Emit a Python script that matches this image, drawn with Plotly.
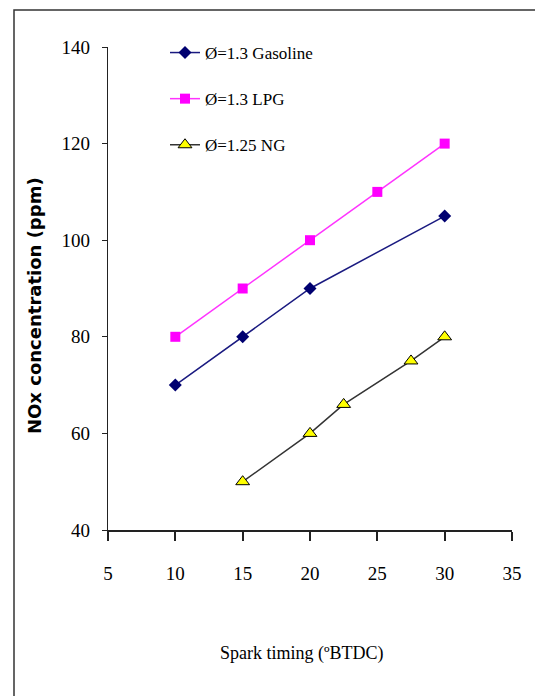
import plotly.graph_objects as go

gas_x = [10, 15, 20, 30]
gas_y = [70, 80, 90, 105]
lpg_x = [10, 15, 20, 25, 30]
lpg_y = [80, 90, 100, 110, 120]
ng_x = [15, 20, 22.5, 27.5, 30]
ng_y = [50, 60, 66, 75, 80]

x_ticks = [5, 10, 15, 20, 25, 30, 35]
y_ticks = [40, 60, 80, 100, 120, 140]

OFF = 8  # page body margin
W, H = 543 - OFF, 696 - OFF
# target plot area in window pixels: x 108..512, y 47..530
L, T = 108 - OFF, 47 - OFF
pw, ph = 404, 483
R = W - L - pw
B = H - T - ph

serif = "Liberation Serif"

fig = go.Figure()
fig.add_trace(go.Scatter(x=gas_x, y=gas_y, mode="lines+markers", name="Ø=1.3 Gasoline",
                         legendgroup="a",
                         line=dict(color="#1a1a80", width=1.5),
                         marker=dict(symbol="diamond", size=10, color="#000070")))
fig.add_trace(go.Scatter(x=lpg_x, y=lpg_y, mode="lines+markers", name="Ø=1.3 LPG",
                         legendgroup="b",
                         line=dict(color="#ff33ff", width=1.5),
                         marker=dict(symbol="square", size=10, color="#ff00ff")))
fig.add_trace(go.Scatter(x=ng_x, y=ng_y, mode="lines+markers", name="Ø=1.25 NG",
                         legendgroup="c",
                         line=dict(color="#333333", width=1.5),
                         marker=dict(symbol="triangle-up", size=12, color="#ffff00",
                                     line=dict(color="#000000", width=1))))

def px2x(p):
    # window pixel -> paper x
    return (p - OFF - L) / pw

def py2y(p):
    return (T + ph - (p - OFF)) / ph

fig.update_layout(
    width=W, height=H,
    margin=dict(l=L, r=R, t=T, b=B),
    paper_bgcolor="white", plot_bgcolor="white",
    showlegend=True,
    legend=dict(x=px2x(165), y=py2y(35), xanchor="left", yanchor="top",
                font=dict(family=serif, size=17, color="black"),
                bgcolor="rgba(0,0,0,0)", tracegroupgap=21, traceorder="grouped",
                itemwidth=30),
    xaxis=dict(range=[5, 35], tickvals=x_ticks, ticktext=[str(v) for v in x_ticks],
               showgrid=False, zeroline=False, showline=True, linecolor="#222222", linewidth=2,
               ticks="outside", ticklen=9, tickwidth=1.5, tickcolor="#222222",
               tickfont=dict(family=serif, size=19, color="black"), ticklabelstandoff=16),
    yaxis=dict(range=[40, 140], tickvals=y_ticks, ticktext=[str(v) for v in y_ticks],
               showgrid=False, zeroline=False, showline=True, linecolor="#222222", linewidth=1.2,
               ticks="outside", ticklen=5, tickwidth=1.2, tickcolor="#222222",
               tickfont=dict(family=serif, size=19, color="black"), ticklabelstandoff=8),
)

fig.add_annotation(text="Spark timing (ºBTDC)", xref="paper", yref="paper",
                   x=px2x(302), y=py2y(653), xanchor="center", yanchor="middle",
                   showarrow=False,
                   font=dict(family=serif, size=18, color="black"))
fig.add_annotation(text="<b>NOx concentration (ppm)</b>", xref="paper", yref="paper",
                   x=px2x(35), y=py2y(306), xanchor="center", yanchor="middle",
                   showarrow=False, textangle=-90,
                   font=dict(family="DejaVu Sans", size=18, color="black"))

fig.add_shape(type="rect", xref="paper", yref="paper",
              x0=px2x(14), x1=px2x(560), y0=py2y(720), y1=py2y(10),
              line=dict(color="#333333", width=1.5), fillcolor="rgba(0,0,0,0)", layer="below")

fig.write_html("out.html")
